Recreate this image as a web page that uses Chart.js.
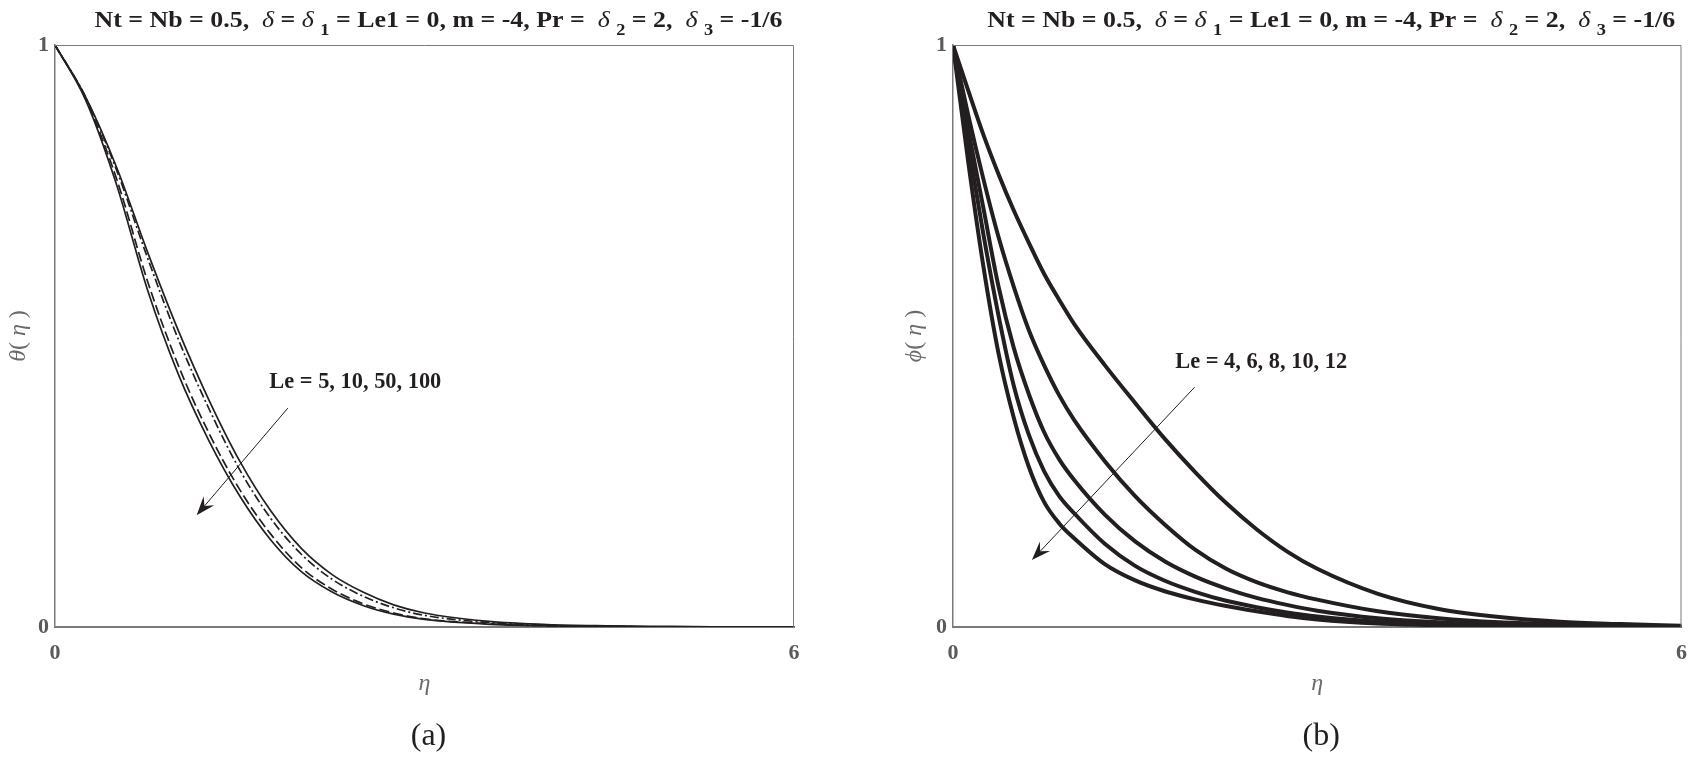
<!DOCTYPE html>
<html>
<head>
<meta charset="utf-8">
<script src="https://cdn.jsdelivr.net/npm/chart.js@4.4.1/dist/chart.umd.min.js"></script>
<style>
  html, body { margin: 0; padding: 0; background: #fff; }
  #wrap { position: relative; width: 1700px; height: 757px; overflow: hidden; background: #fff; }
  #wrap canvas { position: absolute; top: 0; }
</style>
</head>
<body>
<div id="wrap">
  <canvas id="chartA" width="850" height="757" style="left:0px"></canvas>
  <canvas id="chartB" width="850" height="757" style="left:850px"></canvas>
</div>
<script>
// --- data ---
// (a) theta(eta), Le = 5, 10, 50, 100
const ETA_A = [0, 0.25, 0.5, 0.75, 1.0, 1.25, 1.5, 1.75, 2.0, 2.25, 2.5, 2.75, 3.0, 3.5, 4.0, 4.5, 5.0, 5.5, 6.0];
const LE_A = ['5', '10', '50', '100'];
const THETA_LE5   = [1, 0.910, 0.790, 0.645, 0.510, 0.390, 0.285, 0.200, 0.135, 0.090, 0.060, 0.038, 0.024, 0.010, 0.004, 0.002, 0.001, 0, 0];
const THETA_LE10  = [1, 0.910, 0.785, 0.635, 0.495, 0.375, 0.270, 0.187, 0.125, 0.082, 0.053, 0.033, 0.020, 0.008, 0.003, 0.001, 0, 0, 0];
const THETA_LE50  = [1, 0.907, 0.770, 0.595, 0.450, 0.333, 0.236, 0.160, 0.102, 0.065, 0.040, 0.024, 0.014, 0.006, 0.002, 0.001, 0, 0, 0];
const THETA_LE100 = [1, 0.905, 0.760, 0.580, 0.435, 0.320, 0.225, 0.150, 0.095, 0.060, 0.037, 0.022, 0.013, 0.005, 0.002, 0.001, 0, 0, 0];

// (b) phi(eta), Le = 4, 6, 8, 10, 12
const ETA_B = [0, 0.125, 0.25, 0.375, 0.5, 0.625, 0.75, 0.875, 1.0, 1.25, 1.5, 1.75, 2.0, 2.25, 2.5, 2.75, 3.0, 3.5, 4.0, 4.5, 5.0, 5.5, 6.0];
const LE_B = ['4', '6', '8', '10', '12'];
const PHI_LE4  = [1, 0.922, 0.846, 0.778, 0.716, 0.660, 0.607, 0.562, 0.520, 0.450, 0.385, 0.322, 0.265, 0.213, 0.168, 0.130, 0.100, 0.057, 0.031, 0.017, 0.009, 0.005, 0.002];
const PHI_LE6  = [1, 0.880, 0.770, 0.670, 0.585, 0.510, 0.450, 0.398, 0.355, 0.285, 0.225, 0.175, 0.132, 0.100, 0.077, 0.060, 0.047, 0.027, 0.015, 0.008, 0.005, 0.003, 0.001];
const PHI_LE8  = [1, 0.855, 0.720, 0.585, 0.480, 0.400, 0.335, 0.288, 0.252, 0.193, 0.147, 0.112, 0.086, 0.066, 0.050, 0.038, 0.028, 0.015, 0.008, 0.004, 0.002, 0.001, 0];
const PHI_LE10 = [1, 0.830, 0.675, 0.535, 0.415, 0.330, 0.268, 0.225, 0.195, 0.143, 0.105, 0.079, 0.060, 0.045, 0.034, 0.025, 0.018, 0.009, 0.004, 0.002, 0.001, 0, 0];
const PHI_LE12 = [1, 0.800, 0.620, 0.470, 0.360, 0.275, 0.215, 0.178, 0.152, 0.108, 0.080, 0.061, 0.047, 0.036, 0.027, 0.019, 0.013, 0.006, 0.003, 0.001, 0, 0, 0];

const X_TICKS = [0, 6];
const X_TICK_LABELS = ['0', '6'];
const Y_TICKS = [0, 1];
const Y_TICK_LABELS = ['0', '1'];

// --- styles ---
const SERIF = "'Liberation Serif', 'Times New Roman', serif";
const INK = '#231f20';
const AXIS_GRAY = '#7a7a7a';
const TICK_GRAY = '#5a5a5a';
const LABEL_GRAY = '#6a6a6a';

function pts(etas, ys) {
    return etas.map((e, i) => ({ x: e, y: ys[i] }));
}

function drawRuns(ctx, runs, cx, baseline, targetW) {
    let total = 0;
    runs.forEach(r => { ctx.font = r.font; r.w = ctx.measureText(r.t).width; total += r.w; });
    const s = targetW ? targetW / total : 1;
    ctx.save();
    ctx.translate(cx - total * s / 2, baseline);
    ctx.scale(s, 1);
    ctx.textBaseline = 'alphabetic';
    ctx.textAlign = 'left';
    let x = 0;
    runs.forEach(r => {
        ctx.font = r.font;
        ctx.fillStyle = r.color || INK;
        ctx.fillText(r.t, x, r.dy || 0);
        x += r.w;
    });
    ctx.restore();
}

function drawArrow(ctx, x1, y1, x2, y2) {
    const ang = Math.atan2(y2 - y1, x2 - x1);
    const L = 19, W = 7, notch = 12;
    ctx.strokeStyle = INK;
    ctx.lineWidth = 1;
    ctx.beginPath();
    ctx.moveTo(x1, y1);
    ctx.lineTo(x2 - Math.cos(ang) * notch, y2 - Math.sin(ang) * notch);
    ctx.stroke();
    ctx.save();
    ctx.translate(x2, y2);
    ctx.rotate(ang);
    ctx.fillStyle = INK;
    ctx.beginPath();
    ctx.moveTo(0, 0);
    ctx.lineTo(-L, -W);
    ctx.lineTo(-notch, 0);
    ctx.lineTo(-L, W);
    ctx.closePath();
    ctx.fill();
    ctx.restore();
}

const B = 'bold 24px ' + SERIF;
const I = 'italic 24px ' + SERIF;
const SUB = 'bold 17px ' + SERIF;
const TITLE_RUNS = [
    { t: 'Nt = Nb = 0.5,  ', font: B },
    { t: '\u03B4', font: I },
    { t: ' = ', font: B },
    { t: '\u03B4', font: I },
    { t: ' ', font: B },
    { t: '1', font: SUB, dy: 8 },
    { t: ' = Le1 = 0, m = -4, Pr =  ', font: B },
    { t: '\u03B4', font: I },
    { t: ' ', font: B },
    { t: '2', font: SUB, dy: 8 },
    { t: ' = 2,  ', font: B },
    { t: '\u03B4', font: I },
    { t: ' ', font: B },
    { t: '3', font: SUB, dy: 8 },
    { t: ' = -1/6', font: B }
];

function makeDecor(cfg) {
    return {
        id: 'decor_' + cfg.key,
        afterDraw(chart) {
            const { ctx, chartArea: a, scales: { x, y } } = chart;
            ctx.save();
            // frame top / right
            ctx.strokeStyle = AXIS_GRAY;
            ctx.lineWidth = 1;
            ctx.beginPath();
            ctx.moveTo(a.left, a.top + 0.5);
            ctx.lineTo(a.right - 0.5, a.top + 0.5);
            ctx.lineTo(a.right - 0.5, a.bottom);
            ctx.stroke();

            const cx = (a.left + a.right) / 2;
            // title
            drawRuns(ctx, TITLE_RUNS, cx + 14, 27, 688);

            // y label
            ctx.save();
            ctx.translate(cfg.yLabelX, (a.top + a.bottom) / 2);
            ctx.rotate(-Math.PI / 2);
            drawRuns(ctx, [
                { t: cfg.yVar, font: 'italic 24px ' + SERIF, color: LABEL_GRAY },
                { t: '( ', font: '24px ' + SERIF, color: LABEL_GRAY },
                { t: '\u03B7', font: 'italic 24px ' + SERIF, color: LABEL_GRAY },
                { t: ' )', font: '24px ' + SERIF, color: LABEL_GRAY }
            ], 0, 8, null);
            ctx.restore();

            // x label
            drawRuns(ctx, [{ t: '\u03B7', font: 'italic 24px ' + SERIF, color: LABEL_GRAY }], cx, 690, null);

            // caption
            drawRuns(ctx, [{ t: cfg.caption, font: '32px ' + SERIF, color: INK }], cx + 4, 745, null);

            // annotation text + arrow
            const tx = x.getPixelForValue(cfg.note.x);
            const ty = y.getPixelForValue(cfg.note.y);
            ctx.font = 'bold 24px ' + SERIF;
            ctx.fillStyle = INK;
            ctx.textAlign = 'left';
            ctx.textBaseline = 'middle';
            ctx.fillText(cfg.note.text, tx, ty, 172);
            drawArrow(ctx,
                x.getPixelForValue(cfg.arrow[0]), y.getPixelForValue(cfg.arrow[1]),
                x.getPixelForValue(cfg.arrow[2]), y.getPixelForValue(cfg.arrow[3]));
            ctx.restore();
        }
    };
}

function makeChart(id, datasets, padLeft, padRight, cfg) {
    return new Chart(document.getElementById(id), {
        type: 'line',
        data: { datasets: datasets },
        options: {
            responsive: false,
            animation: false,
            events: [],
            layout: { padding: { left: padLeft, right: padRight, top: 45, bottom: 0 }, autoPadding: false },
            plugins: { legend: { display: false }, tooltip: { enabled: false }, title: { display: false } },
            elements: { point: { radius: 0 }, line: { cubicInterpolationMode: 'monotone', borderCapStyle: 'butt' } },
            scales: {
                x: {
                    type: 'linear', min: 0, max: 6,
                    afterBuildTicks: s => { s.ticks = X_TICKS.map(v => ({ value: v })); },
                    afterFit: s => { s.height = 130; },
                    grid: { display: true, drawOnChartArea: false, drawTicks: false },
                    border: { display: true, color: AXIS_GRAY, width: 2 },
                    ticks: {
                        padding: 13, color: TICK_GRAY, maxRotation: 0,
                        font: { family: SERIF, size: 22, weight: 'bold' },
                        callback: v => X_TICK_LABELS[X_TICKS.indexOf(v)]
                    }
                },
                y: {
                    type: 'linear', min: 0, max: 1,
                    afterBuildTicks: s => { s.ticks = Y_TICKS.map(v => ({ value: v })); },
                    afterFit: s => { s.width = 55; },
                    grid: { display: true, drawOnChartArea: false, drawTicks: false },
                    border: { display: true, color: AXIS_GRAY, width: 1.5 },
                    ticks: {
                        padding: 6, color: TICK_GRAY,
                        font: { family: SERIF, size: 22, weight: 'bold' },
                        callback: v => Y_TICK_LABELS[Y_TICKS.indexOf(v)]
                    }
                }
            }
        },
        plugins: [makeDecor(cfg)]
    });
}

const thin = { borderColor: INK, borderWidth: 1.7, fill: false, pointRadius: 0 };
makeChart('chartA', [
    Object.assign({ label: 'Le = ' + LE_A[0], data: pts(ETA_A, THETA_LE5) }, thin),
    Object.assign({ label: 'Le = ' + LE_A[1], data: pts(ETA_A, THETA_LE10), borderDash: [9, 3, 2, 3] }, thin),
    Object.assign({ label: 'Le = ' + LE_A[2], data: pts(ETA_A, THETA_LE50), borderDash: [10, 4], borderWidth: 1.3 }, thin),
    Object.assign({ label: 'Le = ' + LE_A[3], data: pts(ETA_A, THETA_LE100) }, thin)
], 0, 56, {
    key: 'a', yVar: '\u03B8', yLabelX: 17, caption: '(a)',
    note: { text: 'Le = ' + LE_A.join(', '), x: 1.74, y: 0.421 },
    arrow: [1.89, 0.376, 1.15, 0.192]
});

const thick = { borderColor: INK, borderWidth: 4, fill: false, pointRadius: 0 };
makeChart('chartB', [
    Object.assign({ label: 'Le = ' + LE_B[0], data: pts(ETA_B, PHI_LE4) }, thick),
    Object.assign({ label: 'Le = ' + LE_B[1], data: pts(ETA_B, PHI_LE6) }, thick),
    Object.assign({ label: 'Le = ' + LE_B[2], data: pts(ETA_B, PHI_LE8) }, thick),
    Object.assign({ label: 'Le = ' + LE_B[3], data: pts(ETA_B, PHI_LE10) }, thick),
    Object.assign({ label: 'Le = ' + LE_B[4], data: pts(ETA_B, PHI_LE12) }, thick)
], 48, 10, {
    key: 'b', yVar: '\u03D5', yLabelX: 63, caption: '(b)',
    note: { text: 'Le = ' + LE_B.join(', '), x: 1.83, y: 0.455 },
    arrow: [1.99, 0.412, 0.65, 0.115]
});
</script>
</body>
</html>
